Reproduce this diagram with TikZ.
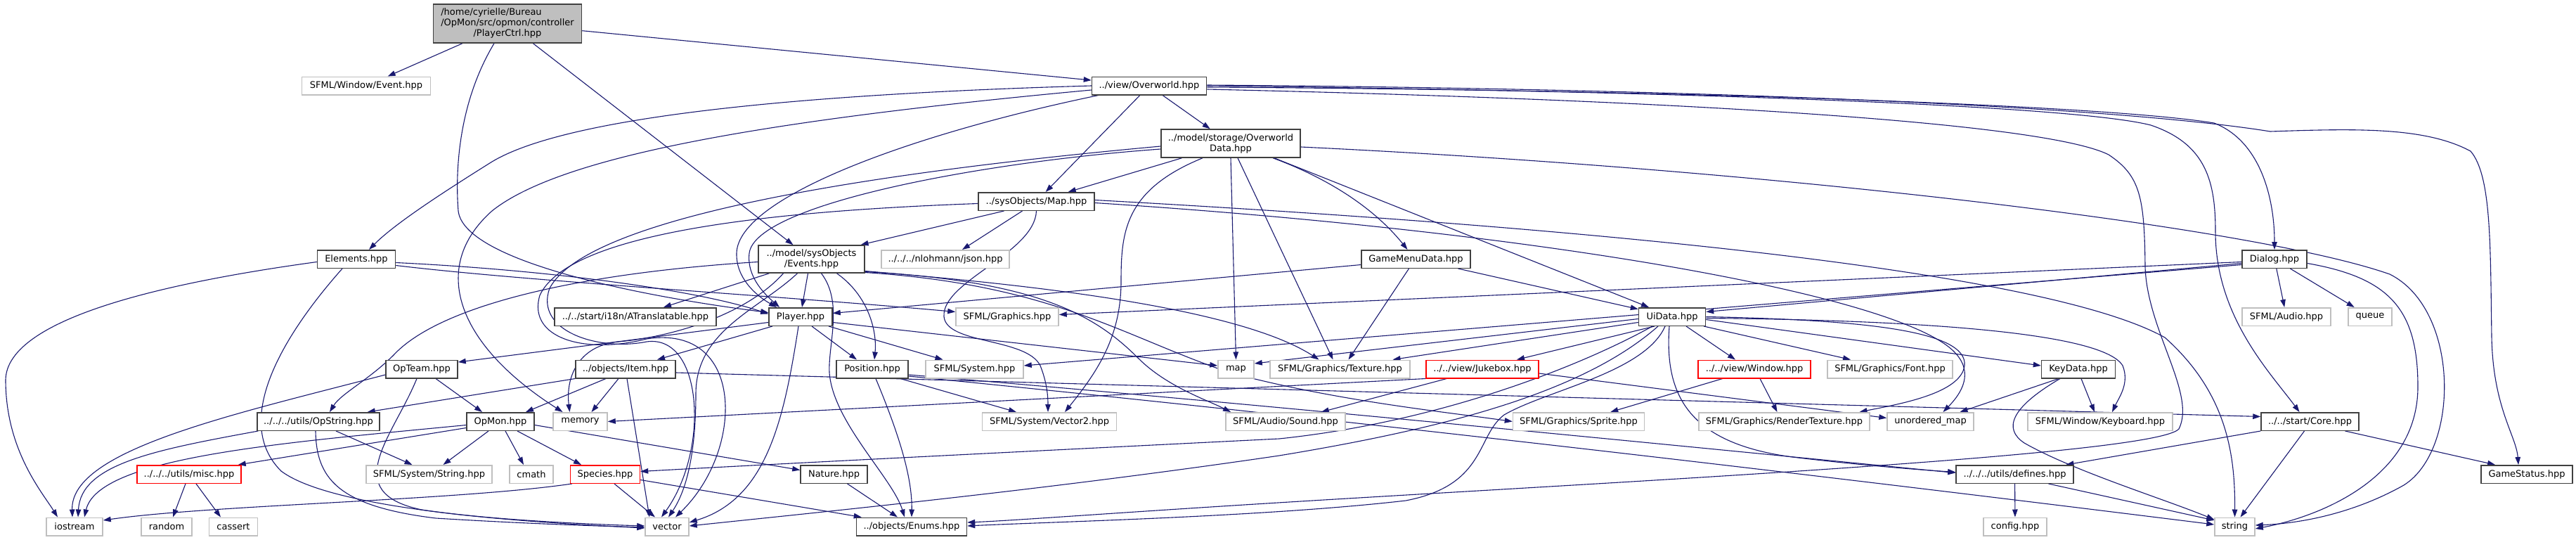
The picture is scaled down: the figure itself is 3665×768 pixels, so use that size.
\documentclass[tikz,border=0pt]{standalone}
\usepackage{fontspec}
\setmainfont{DejaVu Sans}
\usetikzlibrary{arrows.meta,calc}
\definecolor{edgec}{HTML}{191970}
\definecolor{dkb}{HTML}{404040}
\definecolor{ltb}{HTML}{BFBFBF}
\definecolor{rootf}{HTML}{BFBFBF}
\pgfdeclarelayer{bg}
\pgfdeclarelayer{bgw}
\pgfsetlayers{bgw,bg,main}
\begin{document}
\begin{tikzpicture}[x=1pt,y=-1pt,
  base/.style={rectangle, line width=1.5pt, fill=white, inner xsep=3pt, inner ysep=1pt,
    minimum height=25.5pt, align=center, font=\fontsize{13}{15}\selectfont},
  dk/.style={base, draw=dkb},
  lt/.style={base, draw=ltb},
  rd/.style={base, draw=red},
  root/.style={base, draw=dkb, fill=rootf},
  e/.style={draw=edgec, line width=1.1pt, -{Triangle[length=11pt,width=7.5pt]}}]
\useasboundingbox (0,0) rectangle (3665,768);
\begin{pgfonlayer}{bgw}
\fill[white] (0,0) rectangle (3665,768);
\end{pgfonlayer}
% nodes
\node[root, minimum width=211, minimum height=55] (A) at (722,33.5) {\begin{tabular}{@{}l@{}}/home/cyrielle/Bureau\\/OpMon/src/opmon/controller\\\multicolumn{1}{@{}c@{}}{/PlayerCtrl.hpp}\end{tabular}};
\node[lt, minimum width=183] (B) at (521,122) {SFML/Window/Event.hpp};
\node[dk, minimum width=163] (C) at (1635,122) {../view/Overworld.hpp};
\node[dk, minimum width=198, minimum height=40] (D) at (1751,204) {../model/storage/Overworld\\Data.hpp};
\node[dk, minimum width=165] (E) at (1474.5,286.5) {../sysObjects/Map.hpp};
\node[dk, minimum width=111] (F) at (507,368.5) {Elements.hpp};
\node[dk, minimum width=151, minimum height=39] (G) at (1154.5,368.5) {../model/sysObjects\\/Events.hpp};
\node[lt, minimum width=182] (H) at (1345,368.5) {../../../nlohmann/json.hpp};
\node[dk, minimum width=155] (I) at (2014.5,368.5) {GameMenuData.hpp};
\node[dk, minimum width=92] (J) at (3236,368.5) {Dialog.hpp};
\node[dk, minimum width=230] (K) at (904,450.5) {../../start/i18n/ATranslatable.hpp};
\node[dk, minimum width=90] (L) at (1139,450.5) {Player.hpp};
\node[lt, minimum width=146] (M) at (1433,450.5) {SFML/Graphics.hpp};
\node[dk, minimum width=95] (N) at (2379,450.5) {UiData.hpp};
\node[lt, minimum width=126] (O) at (3253,450.5) {SFML/Audio.hpp};
\node[lt, minimum width=62] (P) at (3372,450.5) {queue};
\node[dk, minimum width=102] (Q) at (600,525) {OpTeam.hpp};
\node[dk, minimum width=142] (R) at (890,525) {../objects/Item.hpp};
\node[dk, minimum width=102] (S) at (1241,525) {Position.hpp};
\node[lt, minimum width=139] (T) at (1386.5,525) {SFML/System.hpp};
\node[lt, minimum width=51] (U) at (1758.5,525) {map};
\node[lt, minimum width=199] (V) at (1906.5,525) {SFML/Graphics/Texture.hpp};
\node[rd, minimum width=160] (W) at (2109,525) {../../view/Jukebox.hpp};
\node[rd, minimum width=160] (X) at (2496,525) {../../view/Window.hpp};
\node[lt, minimum width=178] (Y) at (2689,525) {SFML/Graphics/Font.hpp};
\node[dk, minimum width=105] (Z) at (2957,525) {KeyData.hpp};
\node[dk, minimum width=174] (AA) at (453,599.5) {../../../utils/OpString.hpp};
\node[dk, minimum width=96] (AB) at (712,599.5) {OpMon.hpp};
\node[lt, minimum width=77] (AC) at (825.5,599.5) {memory};
\node[lt, minimum width=191] (AD) at (1493,599.5) {SFML/System/Vector2.hpp};
\node[lt, minimum width=170] (AE) at (1829,599.5) {SFML/Audio/Sound.hpp};
\node[lt, minimum width=187] (AF) at (2246,599.5) {SFML/Graphics/Sprite.hpp};
\node[lt, minimum width=243] (AG) at (2538.5,599.5) {SFML/Graphics/RenderTexture.hpp};
\node[lt, minimum width=123] (AH) at (2746.5,599.5) {unordered\_map};
\node[lt, minimum width=206] (AI) at (2988,599.5) {SFML/Window/Keyboard.hpp};
\node[dk, minimum width=139] (AJ) at (3286.5,599.5) {../../start/Core.hpp};
\node[rd, minimum width=148] (AK) at (269,674.5) {../../../utils/misc.hpp};
\node[lt, minimum width=179] (AL) at (610.5,674.5) {SFML/System/String.hpp};
\node[lt, minimum width=62] (AM) at (756,674.5) {cmath};
\node[rd, minimum width=99] (AN) at (861,674.5) {Species.hpp};
\node[dk, minimum width=95] (AO) at (1186.5,674.5) {Nature.hpp};
\node[dk, minimum width=167] (AP) at (2866.5,674.5) {../../../utils/defines.hpp};
\node[dk, minimum width=130] (AQ) at (3595,674.5) {GameStatus.hpp};
\node[lt, minimum width=80] (AR) at (106,749) {iostream};
\node[lt, minimum width=72] (AS) at (237,749) {random};
\node[lt, minimum width=69] (AT) at (332,749) {cassert};
\node[lt, minimum width=62] (AU) at (949,749) {vector};
\node[dk, minimum width=157] (AV) at (1297,749) {../objects/Enums.hpp};
\node[lt, minimum width=90] (AW) at (2867,749) {config.hpp};
\node[lt, minimum width=57] (AX) at (3179.5,749) {string};
% edges
\begin{pgfonlayer}{bg}
% PlayerCtrl
\draw[e] (A) -- (B);
\draw[e] (A) -- (C);
\draw[e] (A) -- (G);
\draw[e] ($(A.south)+(-19,0)$) .. controls (650,150) and (648,250) .. (652,300) .. controls (660,370) and (900,420) .. ($(L.west)+(0,-6)$);
% Overworld
\draw[e] (C) -- (D);
\draw[e] (C) -- (E);
\draw[e] (C.west) .. controls (1100,135) and (800,170) .. (700,230) .. controls (620,280) and (560,320) .. ($(F.north)+(18,0)$);
\draw[e] ($(C.west)+(0,6)$) .. controls (1100,170) and (800,220) .. (700,300) .. controls (610,380) and (650,490) .. ($(AC.north)+(-25,0)$);
\draw[e] ($(C.south)+(-72,0)$) .. controls (1300,190) and (1050,280) .. (1048,360) .. controls (1047,395) and (1075,420) .. ($(L.north)+(-34,0)$);
\draw[e] ($(C.east)+(0,2)$) .. controls (2400,128) and (3000,150) .. (3150,175) .. controls (3215,200) and (3236,280) .. (J.north);
\draw[e] (C.east) .. controls (2400,130) and (2950,150) .. (3060,178) .. controls (3140,205) and (3152,260) .. (3152,330) .. controls (3152,450) and (3230,530) .. ($(AJ.north)+(-15,0)$);
\draw[e] ($(C.east)+(0,-1)$) .. controls (2400,126) and (3000,150) .. (3230,187) .. controls (3350,183) and (3450,180) .. (3515,215) .. controls (3545,250) and (3543,350) .. (3545,480) .. controls (3547,580) and (3580,620) .. ($(AQ.north)+(-12,0)$);
\draw[e] ($(C.east)+(0,5)$) .. controls (2300,140) and (2900,170) .. (3000,220) .. controls (3045,250) and (3051,280) .. (3052,380) .. controls (3055,470) and (3125,560) .. (3100,610) .. controls (3070,645) and (2400,680) .. (1900,710) .. controls (1600,728) and (1450,740) .. ($(AV.east)+(0,-6)$);
% OverworldData
\draw[e] (D) -- (E);
\draw[e] ($(D.west)+(0,8)$) .. controls (1400,230) and (1075,290) .. (1066,360) .. controls (1062,395) and (1090,420) .. ($(L.north)+(-30,0)$);
\draw[e] ($(D.south)+(60,0)$) .. controls (1880,250) and (1950,290) .. ($(I.north)+(-12,0)$);
\draw[e] ($(D.south)+(62,0)$) -- ($(N.north)+(-33,0)$);
\draw[e] ($(D.east)+(0,5)$) .. controls (2500,240) and (3200,320) .. (3400,390) .. controls (3500,440) and (3500,640) .. (3420,690) .. controls (3340,735) and (3260,745) .. ($(AX.east)+(0,-2)$);
\draw[e] (D.south) -- (U.north);
\draw[e] ($(D.south)+(10,0)$) -- ($(V.north)+(-10,0)$);
\draw[e] ($(D.south)+(-40,0)$) .. controls (1600,270) and (1595,330) .. (1595,400) .. controls (1595,480) and (1560,530) .. ($(AD.north)+(22,0)$);
\draw[e] ($(D.west)+(0,4)$) .. controls (1300,240) and (840,300) .. (782,410) .. controls (760,470) and (850,500) .. (920,486) .. controls (1000,475) and (1010,640) .. ($(AU.north)+(-8,0)$);
% Map
\draw[e] ($(E.south)+(-46,0)$) -- ($(G.north)+(70,0)$);
\draw[e] ($(E.south)+(-20,0)$) -- ($(H.north)+(24,0)$);
\draw[e] (E.south) .. controls (1472,360) and (1340,400) .. (1343,450) .. controls (1346,490) and (1460,480) .. (1480,520) .. controls (1490,545) and (1491,565) .. ($(AD.north)+(-2,0)$);
\draw[e] ($(E.west)+(0,3)$) .. controls (1100,300) and (810,330) .. (768,420) .. controls (750,480) and (830,505) .. (920,482) .. controls (1060,460) and (1060,640) .. ($(AU.north)+(12,0)$);
\draw[e] ($(E.east)+(0,-2)$) .. controls (2200,320) and (2900,380) .. (3080,480) .. controls (3170,560) and (3180,650) .. (AX.north);
\draw[e] ($(E.east)+(0,2)$) .. controls (2200,330) and (2700,420) .. (2780,500) .. controls (2810,530) and (2790,560) .. ($(AH.north)+(18,0)$);
% Elements
\draw[e] ($(F.west)+(0,4)$) .. controls (250,400) and (10,450) .. (8,540) .. controls (8,640) and (60,700) .. ($(AR.north)+(-24,0)$);
\draw[e] ($(F.south)+(-20,0)$) .. controls (400,480) and (330,600) .. (400,670) .. controls (480,730) and (800,745) .. ($(AU.west)+(0,2)$);
\draw[e] ($(F.east)+(0,5)$) .. controls (800,385) and (1000,415) .. ($(L.west)+(0,-4)$);
\draw[e] ($(F.east)+(0,9)$) .. controls (750,400) and (1100,420) .. ($(M.west)+(0,-7)$);
% Events
\draw[e] ($(G.south)+(-5,0)$) -- ($(L.north)+(2,0)$);
\draw[e] ($(G.south)+(-60,0)$) -- ($(K.north)+(40,0)$);
\draw[e] ($(G.west)+(0,4)$) .. controls (800,390) and (620,440) .. (560,505) .. controls (525,540) and (485,560) .. ($(AA.north)+(16,0)$);
\draw[e] ($(G.south)+(36,0)$) .. controls (1235,420) and (1248,470) .. ($(S.north)+(3,0)$);
\draw[e] ($(G.south)+(14,0)$) .. controls (1200,430) and (1178,490) .. (1180,530) .. controls (1185,600) and (1270,680) .. ($(AV.north)+(-10,0)$);
\draw[e] ($(G.east)+(0,17)$) .. controls (1400,400) and (1750,430) .. ($(V.north)+(-30,0)$);
\draw[e] ($(G.east)+(0,18)$) .. controls (1480,400) and (1560,450) .. (1620,510) .. controls (1660,550) and (1720,570) .. ($(AE.north)+(-78,0)$);
\draw[e] ($(G.east)+(0,19)$) .. controls (1500,405) and (1600,480) .. (1750,530) .. controls (1900,570) and (2050,585) .. (AF.west);
\draw[e] ($(G.south)+(-20,0)$) .. controls (1080,440) and (990,470) .. (990,560) .. controls (990,650) and (975,700) .. ($(AU.north)+(2,0)$);
\draw[e] ($(G.south)+(-40,0)$) .. controls (1060,450) and (950,480) .. (880,486) .. controls (820,492) and (805,540) .. ($(AC.north)+(-15,0)$);
% GameMenuData
\draw[e] ($(I.west)+(0,8)$) -- ($(L.east)+(0,-5)$);
\draw[e] ($(I.south)+(-10,0)$) -- ($(V.north)+(12,0)$);
\draw[e] (I) -- (N);
% Dialog
\draw[e] ($(J.west)+(0,4)$) -- ($(M.east)+(0,-3)$);
\draw[e] ($(J.west)+(0,6)$) -- ($(N.east)+(0,-7)$);
\draw[e] ($(J.west)+(0,8)$) -- ($(T.east)+(0,-5)$);
\draw[e] (J) -- (O);
\draw[e] (J) -- (P);
\draw[e] ($(J.east)+(0,6)$) .. controls (3400,395) and (3440,440) .. (3440,550) .. controls (3440,680) and (3300,735) .. ($(AX.east)+(0,3)$);
% Player
\draw[e] ($(L.west)+(0,8)$) -- ($(Q.east)+(0,-10)$);
\draw[e] ($(L.south)+(-40,0)$) -- ($(R.north)+(45,0)$);
\draw[e] ($(L.south)+(16,0)$) -- ($(S.north)+(-22,0)$);
\draw[e] ($(L.south)+(40,0)$) -- ($(T.north)+(-45,0)$);
\draw[e] ($(L.east)+(0,8)$) -- ($(U.west)+(0,-5)$);
\draw[e] ($(L.south)+(-3,0)$) .. controls (1115,600) and (1090,710) .. ($(AU.east)+(0,-6)$);
% UiData
\draw[e] ($(N.west)+(0,8)$) -- ($(V.north)+(75,0)$);
\draw[e] ($(N.west)+(0,3)$) -- ($(U.east)+(0,-8)$);
\draw[e] ($(N.south)+(-25,0)$) -- ($(W.north)+(49,0)$);
\draw[e] ($(N.south)+(20,0)$) -- ($(X.north)+(-27,0)$);
\draw[e] ($(N.south)+(45,0)$) -- ($(Y.north)+(-56,0)$);
\draw[e] ($(N.east)+(0,4)$) -- ($(Z.west)+(0,-5)$);
\draw[e] ($(N.east)+(0,2)$) .. controls (2700,455) and (2990,470) .. (3020,520) .. controls (3030,545) and (3015,565) .. ($(AI.north)+(17,0)$);
\draw[e] (N.east) .. controls (2650,455) and (2800,470) .. (2795,520) .. controls (2790,560) and (2700,575) .. ($(AG.north)+(107,0)$);
\draw[e] ($(N.south)+(-4,0)$) .. controls (2368,560) and (2400,630) .. (2550,650) .. controls (2650,662) and (2730,668) .. ($(AP.west)+(0,-3)$);
\draw[e] ($(N.south)+(-10,0)$) .. controls (2340,530) and (2200,555) .. (2140,590) .. controls (2100,620) and (2115,690) .. (2000,712) .. controls (1800,735) and (1500,742) .. ($(AV.east)+(0,-1)$);
\draw[e] ($(N.south)+(-20,0)$) .. controls (2250,560) and (2050,610) .. (1820,648) .. controls (1500,695) and (1200,725) .. ($(AU.east)+(0,-1)$);
\draw[e] ($(N.south)+(-28,0)$) .. controls (2250,520) and (2050,600) .. (1820,624) .. controls (1400,645) and (1100,660) .. ($(AN.east)+(0,-4)$);
% Jukebox, Window, KeyData
\draw[e] (W) -- (AE);
\draw[e] (W.south west) -- (AC.east);
\draw[e] ($(W.east)+(0,6)$) -- ($(AH.west)+(0,-5)$);
\draw[e] (X) -- (AF);
\draw[e] ($(X.south)+(8,0)$) -- ($(AG.north)+(-10,0)$);
\draw[e] ($(Z.south)+(-28,0)$) -- ($(AH.north)+(42,0)$);
\draw[e] ($(Z.south)+(4,0)$) -- ($(AI.north)+(-8,0)$);
\draw[e] ($(Z.south)+(-26,0)$) .. controls (2860,580) and (2850,610) .. (2880,630) .. controls (2950,670) and (3080,710) .. ($(AX.west)+(0,-10)$);
% Core, defines
\draw[e] (AJ.south west) -- ($(AP.north)+(73,0)$);
\draw[e] ($(AJ.south)+(-8,0)$) -- ($(AX.north)+(8,0)$);
\draw[e] ($(AJ.south)+(50,0)$) -- ($(AQ.north)+(-45,0)$);
\draw[e] (AP) -- (AW);
\draw[e] ($(AP.south)+(48,0)$) -- ($(AX.west)+(0,-9)$);
% Position
\draw[e] ($(S.south)+(40,0)$) -- ($(AD.north)+(-47,0)$);
\draw[e] ($(S.south)+(5,0)$) .. controls (1280,620) and (1298,680) .. (AV.north);
\draw[e] ($(S.east)+(0,8)$) .. controls (1800,575) and (2500,645) .. ($(AP.west)+(0,-2)$);
\draw[e] ($(S.east)+(0,10)$) .. controls (2000,605) and (2700,690) .. ($(AX.west)+(0,-3)$);
% Item
\draw[e] ($(R.east)+(0,5)$) -- ($(AJ.west)+(0,-7)$);
\draw[e] ($(R.south)+(-28,0)$) -- ($(AB.north)+(36,0)$);
\draw[e] ($(R.south)+(-10,0)$) -- ($(AC.north)+(16,0)$);
\draw[e] (R.south west) -- ($(AA.north east)+(-18,0)$);
\draw[e] ($(R.south)+(2,0)$) -- ($(AU.north)+(-25,0)$);
% OpTeam
\draw[e] ($(Q.south)+(20,0)$) -- ($(AB.north)+(-26,0)$);
\draw[e] ($(Q.west)+(0,8)$) .. controls (330,590) and (100,640) .. ($(AR.north)+(-3,0)$);
\draw[e] ($(Q.south)+(-7,0)$) .. controls (560,620) and (480,700) .. (600,725) .. controls (700,740) and (850,746) .. ($(AU.west)+(0,-1)$);
% OpString
\draw[e] ($(AA.south west)+(2,0)$) .. controls (220,640) and (115,660) .. ($(AR.north)+(5,0)$);
\draw[e] ($(AA.south)+(25,0)$) -- ($(AL.north)+(-24,0)$);
\draw[e] ($(AA.south)+(-4,0)$) .. controls (450,680) and (480,720) .. (620,737) .. controls (750,745) and (850,748) .. ($(AU.west)+(0,1)$);
% OpMon
\draw[e] ($(AB.west)+(0,5)$) .. controls (400,630) and (140,650) .. ($(AR.north)+(14,0)$);
\draw[e] ($(AB.west)+(0,9)$) -- ($(AK.north east)+(-5,0)$);
\draw[e] ($(AB.south)+(-17,0)$) -- ($(AL.north)+(20,0)$);
\draw[e] ($(AB.south)+(7,0)$) -- ($(AM.north)+(-11,0)$);
\draw[e] ($(AB.south)+(24,0)$) -- ($(AN.north)+(-34,0)$);
\draw[e] ($(AB.east)+(0,5)$) -- ($(AO.west)+(0,-6)$);
% misc, Species, Nature
\draw[e] ($(AK.south)+(-5,0)$) -- ($(AS.north)+(9,0)$);
\draw[e] ($(AK.south)+(10,0)$) -- ($(AT.north)+(-18,0)$);
\draw[e] ($(AN.south west)+(3,0)$) .. controls (650,712) and (300,718) .. ($(AR.east)+(0,-9)$);
\draw[e] ($(AN.south)+(13,0)$) -- ($(AU.north)+(-17,0)$);
\draw[e] ($(AN.east)+(0,8)$) -- ($(AV.north west)+(8,0)$);
\draw[e] ($(AO.south)+(19,0)$) -- ($(AV.north)+(-20,0)$);
\end{pgfonlayer}
\end{tikzpicture}
\end{document}
